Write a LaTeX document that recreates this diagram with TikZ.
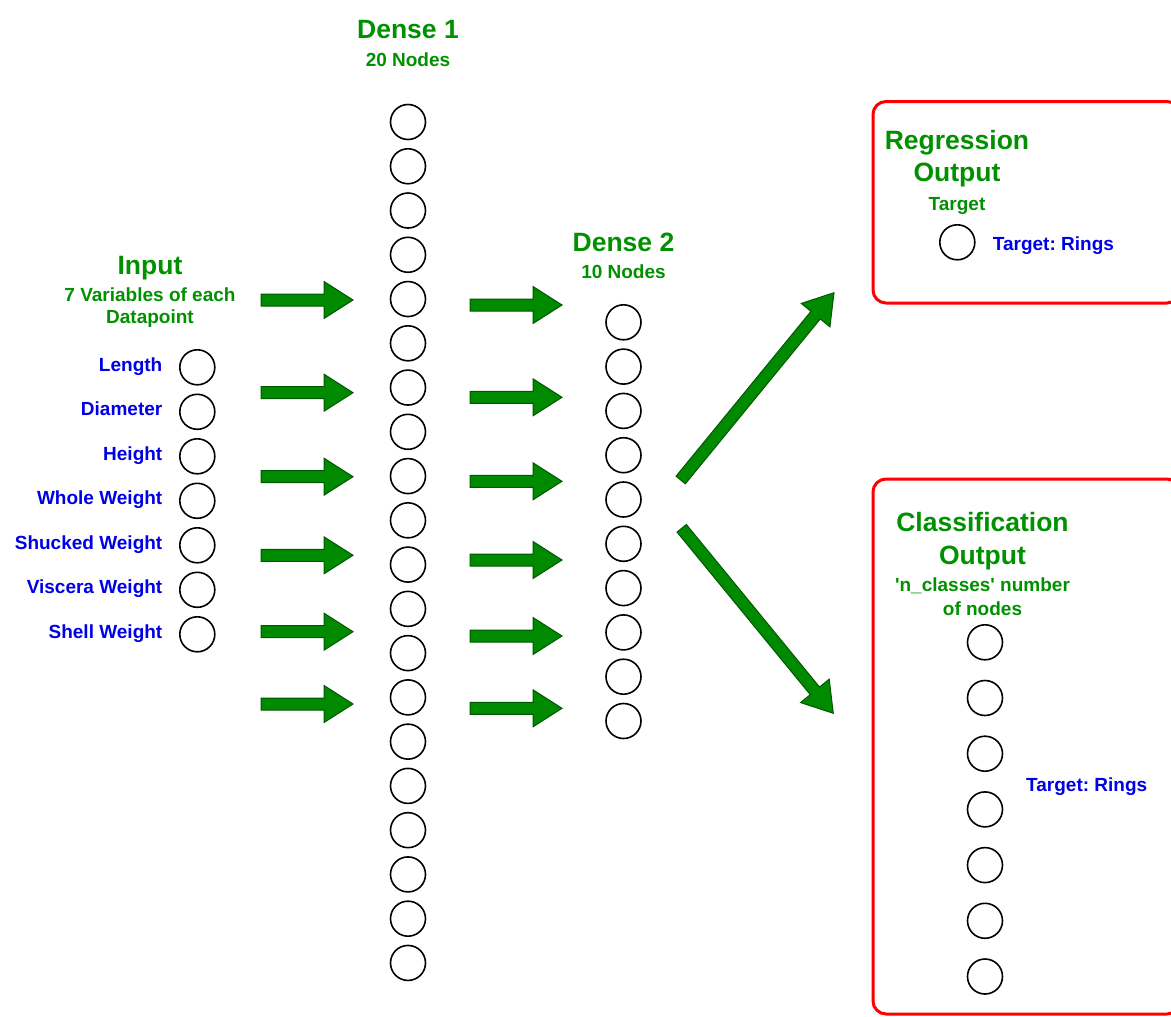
\documentclass[tikz,border=0pt]{standalone}
\usepackage{fontspec}
\setmainfont{Liberation Sans}[Ligatures=TeXOff]
\usetikzlibrary{calc}
\frenchspacing

\definecolor{titlegreen}{HTML}{009000}
\definecolor{labelblue}{HTML}{0000E6}
\definecolor{arrowfill}{HTML}{008A00}
\definecolor{arrowline}{HTML}{005700}
\definecolor{boxred}{HTML}{FF0000}

\tikzset{
  unit/.style={circle, draw=black, line width=1.6pt, minimum size=35pt, inner sep=0pt},
  headtxt/.style={font=\bfseries\fontsize{26.5}{33}\selectfont, text=titlegreen, anchor=base, inner sep=0pt},
  subtxt/.style={font=\bfseries\fontsize{19}{23}\selectfont, text=titlegreen, anchor=base, inner sep=0pt},
  feattxt/.style={font=\bfseries\fontsize{19}{23}\selectfont, text=labelblue, inner sep=0pt},
  outbox/.style={draw=boxred, line width=3pt, rounded corners=13pt},
  blockarrow/.style={fill=arrowfill, draw=arrowline, line width=1pt, line join=miter},
}

% thick block arrow from one named coordinate to another
\newcommand\garrow[2]{%
  \path[blockarrow] let \p1=(#1), \p2=(#2),
    \n1={atan2(\y2-\y1,\x2-\x1)}, \n2={veclen(\x2-\x1,\y2-\y1)} in
    [shift={(\p1)}, rotate=\n1]
    (0pt,6pt) -- ({\n2-29pt},6pt) -- ({\n2-29pt},18.5pt) -- (\n2,0pt)
    -- ({\n2-29pt},-18.5pt) -- ({\n2-29pt},-6pt) -- (0pt,-6pt) -- cycle;}

\begin{document}
\begin{tikzpicture}[x=1pt, y=-1pt]
\useasboundingbox (0,0) rectangle (1171,1017);
\clip (0,0) rectangle (1171,1017);

% output frames
\draw[outbox] (873,101.5) rectangle (1180,303);
\draw[outbox] (873,479) rectangle (1180,1014);

% input layer
\node[headtxt] (inhead) at (150,274) {Input};
\node[subtxt] (insub1) at (150,301.5) {7 Variables of each};
\node[subtxt] (insub2) at (150,323.5) {Datapoint};
\foreach \name [count=\i] in {Length, Diameter, Height, Whole Weight, Shucked Weight, Viscera Weight, Shell Weight} {
  \node[unit] (in\i) at (197.3,{367.3+44.5*(\i-1)}) {};
  \node[feattxt, anchor=base east] (inlab\i) at (162.5,{371+44.5*(\i-1)}) {\name};
}

% first dense layer
\node[headtxt] (d1head) at (408,38.5) {Dense 1};
\node[subtxt] (d1sub) at (408,66) {20 Nodes};
\foreach \i in {1,...,20}
  \node[unit] (da\i) at (408,{122+44.26*(\i-1)}) {};

% second dense layer
\node[headtxt] (d2head) at (623.5,251) {Dense 2};
\node[subtxt] (d2sub) at (623.5,278) {10 Nodes};
\foreach \i in {1,...,10}
  \node[unit] (db\i) at (623.5,{322.3+44.3*(\i-1)}) {};

% regression output
\node[headtxt] (reghead1) at (957,149.3) {Regression};
\node[headtxt] (reghead2) at (957,181.7) {Output};
\node[subtxt] (regsub) at (957,210) {Target};
\node[unit] (reg) at (957.3,242.3) {};
\node[feattxt, anchor=base west] (reglab) at (992.7,250) {Target: Rings};

% classification output
\node[headtxt] (clshead1) at (982.5,531.7) {Classification};
\node[headtxt] (clshead2) at (982.5,564.3) {Output};
\node[subtxt] (clssub1) at (982.5,591.7) {'n\_classes' number};
\node[subtxt] (clssub2) at (982.5,615) {of nodes};
\foreach \i in {1,...,7}
  \node[unit] (cls\i) at (985,{642.3+55.7*(\i-1)}) {};
\node[feattxt, anchor=base west] (clslab) at (1026,791) {Target: Rings};

% arrows into the first dense layer
\foreach \y [count=\i] in {300,392.7,476.7,555.3,631.7,704} {
  \coordinate (la\i) at (261,\y);
  \coordinate (lb\i) at (353,\y);
  \garrow{la\i}{lb\i}
}
% arrows into the second dense layer
\foreach \y [count=\i] in {305,397.3,481.3,560,636,708.3} {
  \coordinate (ra\i) at (470,\y);
  \coordinate (rb\i) at (562,\y);
  \garrow{ra\i}{rb\i}
}
% arrows to the two heads
\coordinate (upa) at (680.7,480);
\coordinate (upb) at (834,292.7);
\garrow{upa}{upb}
\coordinate (dna) at (681.7,528.3);
\coordinate (dnb) at (833.3,713.3);
\garrow{dna}{dnb}
\end{tikzpicture}
\end{document}
